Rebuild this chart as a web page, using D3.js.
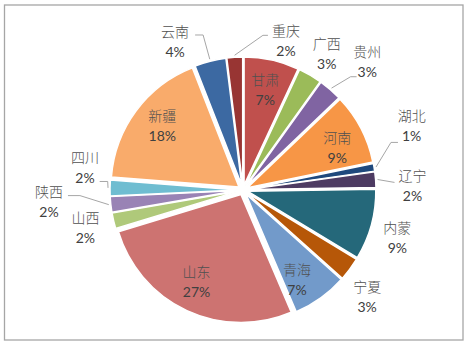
<!DOCTYPE html>
<html>
<head>
<meta charset="utf-8">
<script src="https://cdn.jsdelivr.net/npm/d3@7"></script>
<style>
  html, body { margin: 0; padding: 0; background: #fff; }
  svg { display: block; }
</style>
</head>
<body>
<script>
// Share of total by province (%)
const provinces = ["甘肃", "广西", "贵州", "河南", "湖北", "辽宁", "内蒙", "宁夏",
                   "青海", "山东", "山西", "陕西", "四川", "新疆", "云南", "重庆"];
const shares = [7, 3, 3, 9, 1, 2, 9, 3, 7, 27, 2, 2, 2, 18, 4, 2];
const sliceColors = ["#C0504D", "#9BBB59", "#8064A2", "#F79646", "#1F497D", "#4D3B62",
                     "#25687A", "#B65708", "#729ACA", "#CD7371", "#AFC97A", "#9983B5",
                     "#6FBDD1", "#F9AB6B", "#3C69A2", "#983533"];

// Labels drawn inside their slice; the rest sit outside
const insideLabels = ["甘肃", "河南", "青海", "山东", "新疆"];

// Hand-tuned label nudges and leader-line attachments
const labelNudge = {
  "甘肃": [0, 0],   "河南": [3, 5],   "青海": [-6, 6],  "山东": [-3, -2], "新疆": [2, -3],
  "云南": [-28, 9], "重庆": [53, 12], "广西": [2, 3],   "贵州": [18, -6],
  "湖北": [9, -37], "辽宁": [8, 8],   "内蒙": [-2, 5],  "宁夏": [-6, 10],
  "山西": [0, 0],   "陕西": [-33, -6], "四川": [4, -20]
};
// attach: which text line the leader meets; dy: line height vs label centre;
// gap: space to the text; h: horizontal run before the text
const leaders = {
  "云南": { attach: "name", dy: -7, gap: 6, h: 8 },
  "重庆": { attach: "name", dy: -5, gap: 4, h: 5 },
  "贵州": { attach: "pct",  dy: 15, gap: 1, h: 6 },
  "湖北": { attach: "pct",  dy: 17, gap: 4, h: 7 },
  "辽宁": { attach: "name", dy: -3, gap: 4, h: 0 },
  "陕西": { attach: "name", dy: -6, gap: 5, h: 12 },
  "四川": { attach: "pct",  dy: 14, gap: 5, h: 8 }
};

const W = 466, H = 344;
const cx = 243, cy = 190;
const R = 128, explode = 5;
const insideR = 103, outsideR = 162;

const svg = d3.select("body").append("svg")
  .attr("width", W).attr("height", H);

// chart frame
svg.append("rect")
  .attr("x", 4.5).attr("y", 5).attr("width", 458.5).attr("height", 335)
  .attr("fill", "#fff").attr("stroke", "#A6A6A6").attr("stroke-width", 1.3);

const data = provinces.map((p, i) => ({ name: p, value: shares[i], color: sliceColors[i] }));

const pie = d3.pie().value(d => d.value).sort(null);
const arcs = pie(data);

const arc = d3.arc().innerRadius(0).outerRadius(R);
const labelArcIn = d3.arc().innerRadius(insideR).outerRadius(insideR);
const labelArcOut = d3.arc().innerRadius(outsideR).outerRadius(outsideR);
const edgeArc = d3.arc().innerRadius(R + explode + 2).outerRadius(R + explode + 2);

const g = svg.append("g").attr("transform", `translate(${cx},${cy})`);

const mid = d => (d.startAngle + d.endAngle) / 2;

g.selectAll("path.slice")
  .data(arcs)
  .join("path")
  .attr("class", "slice")
  .attr("d", arc)
  .attr("fill", d => d.data.color)
  .attr("stroke", "#fff")
  .attr("stroke-width", 1.5)
  .attr("transform", d => `translate(${explode * Math.sin(mid(d))},${-explode * Math.cos(mid(d))})`);

const font = "Lato, 'Noto Sans CJK SC', sans-serif";
const textColor = "#404040";

const labelG = g.append("g");
const lineG = g.insert("g", "g");

arcs.forEach(d => {
  const name = d.data.name;
  const inside = insideLabels.includes(name);
  const base = (inside ? labelArcIn : labelArcOut).centroid(d);
  const nudge = labelNudge[name] || [0, 0];
  const x = base[0] + nudge[0], y = base[1] + nudge[1];

  const lg = labelG.append("g").attr("transform", `translate(${x},${y})`);
  const nameT = lg.append("text")
    .attr("y", -10).attr("text-anchor", "middle").attr("dominant-baseline", "central")
    .attr("font-family", font).attr("font-size", 14).attr("font-weight", 300)
    .attr("fill", "#505050").text(name);
  const pctT = lg.append("text")
    .attr("y", 10).attr("text-anchor", "middle").attr("dominant-baseline", "central")
    .attr("font-family", font).attr("font-size", 14)
    .attr("fill", textColor).text(d.data.value + "%");

  const ld = leaders[name];
  if (ld) {
    const t = ld.attach === "name" ? nameT : pctT;
    const half = t.node().getComputedTextLength() / 2;
    const start = edgeArc.centroid(d);
    const onRight = x > start[0];
    const ex = onRight ? x - half - ld.gap : x + half + ld.gap;
    const ey = y + ld.dy;
    const bx = onRight ? ex - ld.h : ex + ld.h;
    lineG.append("path")
      .attr("d", d3.line()([start, [bx, ey], [ex, ey]]))
      .attr("fill", "none")
      .attr("stroke", "#A6A6A6")
      .attr("stroke-width", 1);
  }
});
</script>
</body>
</html>
